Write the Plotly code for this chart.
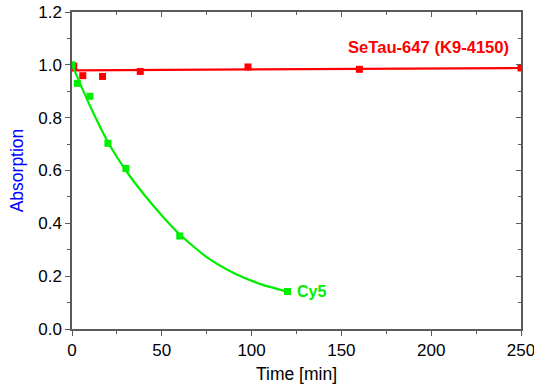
import plotly.graph_objects as go

# Data
setau_time = [1, 6, 17, 38, 98, 160, 250]
setau_abs = [0.995, 0.959, 0.956, 0.975, 0.992, 0.983, 0.988]
setau_fit_time = [0, 250]
setau_fit_abs = [0.979, 0.988]

cy5_time = [0, 3, 10, 20, 30, 60, 120]
cy5_abs = [1.0, 0.930, 0.881, 0.703, 0.608, 0.352, 0.142]
cy5_fit_time = [0, 10, 20, 30, 40, 50, 60, 75, 90, 105, 120]
cy5_fit_abs = [1.0, 0.845, 0.708, 0.600, 0.510, 0.430, 0.358, 0.272, 0.212, 0.170, 0.141]

x_ticks = [0, 50, 100, 150, 200, 250]
y_ticks = [0.0, 0.2, 0.4, 0.6, 0.8, 1.0, 1.2]

RED = "#ff0000"
GREEN = "#00ee00"
AXIS = "#5a5a5a"
FONT = "Arial, Liberation Sans, sans-serif"

fig = go.Figure()
fig.add_trace(go.Scatter(x=setau_fit_time, y=setau_fit_abs, mode="lines",
                         line=dict(color=RED, width=2.2), showlegend=False))
fig.add_trace(go.Scatter(x=setau_time, y=setau_abs, mode="markers",
                         marker=dict(symbol="square", size=7, color=RED), showlegend=False))
fig.add_trace(go.Scatter(x=cy5_fit_time, y=cy5_fit_abs, mode="lines",
                         line=dict(color=GREEN, width=2.2, shape="spline", smoothing=0.6),
                         showlegend=False))
fig.add_trace(go.Scatter(x=cy5_time, y=cy5_abs, mode="markers",
                         marker=dict(symbol="square", size=7, color=GREEN), showlegend=False))
# invisible trace for the mirrored (top/right) axes
fig.add_trace(go.Scatter(x=[0], y=[0], xaxis="x2", yaxis="y2", mode="markers",
                         marker=dict(opacity=0), showlegend=False, hoverinfo="skip"))

axis_common = dict(showline=True, linecolor=AXIS, linewidth=1.5, showgrid=False,
                   zeroline=False, tickcolor=AXIS, tickwidth=1.2, automargin=False)

fig.update_layout(
    width=534, height=390,
    margin=dict(l=72, r=13, t=12, b=61),
    plot_bgcolor="white", paper_bgcolor="white",
    font=dict(family=FONT, size=17, color="black"),
    xaxis=dict(range=[0, 250], tickvals=x_ticks, ticks="outside", ticklen=5,
               ticklabeloverflow="allow",
               minor=dict(dtick=25, ticks="outside", ticklen=3, tickcolor=AXIS),
               title=dict(text="Time [min]", font=dict(size=17.5, color="black"), standoff=9),
               tickfont=dict(size=17), **axis_common),
    yaxis=dict(range=[0, 1.2], tickvals=y_ticks, tickformat=".1f", ticks="outside", ticklen=5,
               ticklabeloverflow="allow",
               minor=dict(dtick=0.1, ticks="outside", ticklen=3, tickcolor=AXIS),
               title=dict(text="Absorption", font=dict(size=17.5, color="#0000ff"), standoff=10),
               tickfont=dict(size=17), **axis_common),
    xaxis2=dict(range=[0, 250], overlaying="x", side="top", anchor="y2",
                tickvals=x_ticks, ticks="inside", ticklen=5, showticklabels=False,
                minor=dict(dtick=25, ticks="inside", ticklen=3, tickcolor=AXIS),
                **axis_common),
    yaxis2=dict(range=[0, 1.2], overlaying="y", side="right", anchor="x2",
                tickvals=y_ticks, ticks="inside", ticklen=5, showticklabels=False,
                minor=dict(dtick=0.1, ticks="inside", ticklen=3, tickcolor=AXIS),
                **axis_common),
    annotations=[
        dict(x=250, y=1.065, xref="x", yref="y", text="<b>SeTau-647 (K9-4150)</b>",
             showarrow=False, xanchor="right", yanchor="middle", xshift=-10,
             font=dict(size=16.6, color=RED, family=FONT)),
        dict(x=120, y=0.142, xref="x", yref="y", text="<b>Cy5</b>",
             showarrow=False, xanchor="left", yanchor="middle", xshift=7,
             font=dict(size=16, color=GREEN, family=FONT)),
    ],
)

fig.write_html("out.html",
               config={"displayModeBar": False},
               post_script="document.body.style.margin='0';document.body.style.overflow='hidden';")
